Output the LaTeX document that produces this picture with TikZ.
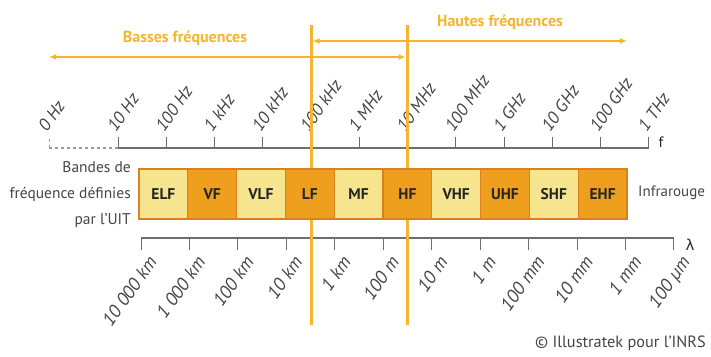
\documentclass[tikz,border=0pt]{standalone}
\usepackage{fontspec}
\setmainfont{PT Sans}
\newfontfamily\grk{DejaVu Sans}
\usetikzlibrary{arrows.meta}
\definecolor{gold}{HTML}{F5B52E}
\definecolor{lightc}{HTML}{F7E48E}
\definecolor{darkc}{HTML}{EE9F1E}
\definecolor{edgec}{HTML}{DC7F1C}
\definecolor{axisc}{HTML}{6E6E6E}
\definecolor{txtc}{HTML}{454545}
\tikzset{
  axisline/.style={draw=axisc, line width=1.2pt},
  tickline/.style={draw=axisc, line width=1pt},
  goldline/.style={draw=gold, line width=3pt},
  goldarrow/.style={draw=gold, line width=1.4pt, {Latex[length=7pt,width=6pt]}-{Latex[length=7pt,width=6pt]}},
  freqlbl/.style={font=\fontsize{17.5}{17.5}\selectfont\itshape, text=txtc, rotate=55, anchor=base west, inner sep=0pt},
  wavelbl/.style={font=\fontsize{18.5}{18.5}\selectfont\itshape, text=txtc, rotate=55, anchor=north east, inner sep=0pt},
  bandcell/.style={draw=edgec, line width=1.2pt, minimum width=48.8pt, minimum height=50pt, inner sep=0pt, font=\fontsize{15.5}{15.5}\selectfont\bfseries, text=black!85},
  title/.style={font=\fontsize{16}{16}\selectfont\bfseries, text=gold},
}
\begin{document}
\begin{tikzpicture}[x=1pt,y=-1pt]
\useasboundingbox (0,0) rectangle (711,356);
% frequency axis
\coordinate (f0) at (49,148);
\coordinate (fa) at (118,148);
\coordinate (fend) at (649,148);
\draw[axisc!70, line width=1.2pt, dashed] (f0) -- (fa);
\draw[axisline] (fa) -- (fend);
\draw[axisc!70, line width=1pt, dashed] (f0) -- ++(0,-11);
\node[freqlbl] (fl0) at (47,133) {0 Hz};
\foreach \i/\t in {0/10 Hz,1/100 Hz,2/1 kHz,3/10 kHz,4/100 kHz,5/1 MHz,6/10 MHz,7/100 MHz,8/1 GHz,9/10 GHz,10/100 GHz,11/1 THz}{
  \coordinate (ft\i) at ({118+48.25*\i},148);
  \draw[tickline] (ft\i) -- ++(0,-11);
  \node[freqlbl] (fl\i) at ({116+48.25*\i},133) {\t};
}
\node[font=\fontsize{15}{15}\selectfont, text=black!85] (flab) at (661,142) {f};
% wavelength axis
\coordinate (w0) at (141,238);
\coordinate (wend) at (674,238);
\draw[axisline] (w0) -- (wend);
\foreach \i/\t in {0/10 000 km,1/1 000 km,2/100 km,3/10 km,4/1 km,5/100 m,6/10 m,7/1 m,8/100 mm,9/10 mm,10/1 mm,11/100 µm}{
  \coordinate (wt\i) at ({141+48.45*\i},238);
  \draw[tickline] (wt\i) -- ++(0,12);
  \node[wavelbl] (wl\i) at ({147+48.45*\i},254) {\t};
}
\node[font=\fontsize{15}{15}\selectfont\grk, text=black!85] (llab) at (690,245) {λ};
% gold vertical lines
\coordinate (v1t) at (311,25);
\coordinate (v1b) at (311,325);
\coordinate (v2t) at (407,25);
\coordinate (v2b) at (407,325);
\draw[goldline] (v1t) -- (v1b);
\draw[goldline] (v2t) -- (v2b);
% arrows
\coordinate (hl) at (312.5,41);
\coordinate (hr) at (627,41);
\coordinate (bl) at (49,57);
\coordinate (br) at (405.5,57);
\draw[goldarrow] (hl) -- (hr);
\draw[goldarrow] (bl) -- (br);
\node[title] (basses) at (185,38) {Basses fréquences};
\node[title] (hautes) at (500,22) {Hautes fréquences};
% bands
\foreach \i/\t/\c in {0/ELF/lightc,1/VF/darkc,2/VLF/lightc,3/LF/darkc,4/MF/lightc,5/HF/darkc,6/VHF/lightc,7/UHF/darkc,8/SHF/lightc,9/EHF/darkc}{
  \node[bandcell, fill=\c] (b\i) at ({139+24.4+48.8*\i},194) {\t};
}
\node[font=\fontsize{15.5}{26}\selectfont, text=txtc, align=right, anchor=east, inner sep=0pt] (bandes) at (131,195) {Bandes de\\fréquence définies\\par l’UIT};
\node[font=\fontsize{15}{15}\selectfont, text=txtc, anchor=west, inner sep=0pt] (infra) at (638,193) {Infrarouge};
\node[font=\fontsize{16.3}{16.3}\selectfont, text=txtc, anchor=east, inner sep=0pt] (copy) at (706,343) {© Illustratek pour l’INRS};
\end{tikzpicture}
\end{document}
